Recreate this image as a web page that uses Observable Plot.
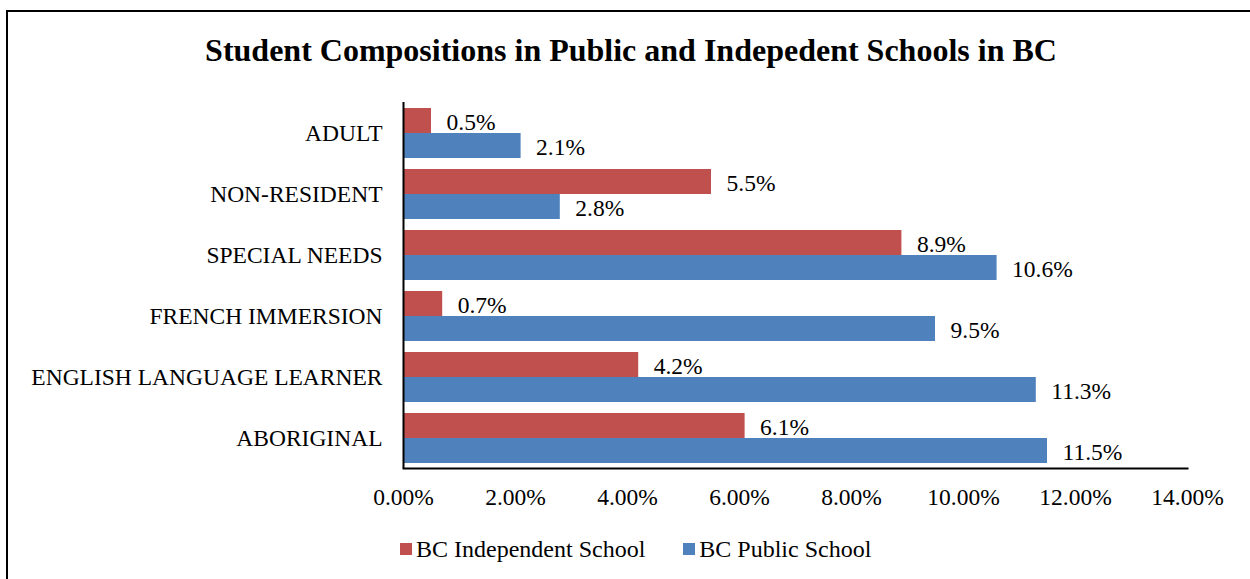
<!DOCTYPE html>
<html>
<head>
<meta charset="utf-8">
<script src="https://cdn.jsdelivr.net/npm/d3@7"></script>
<script src="https://cdn.jsdelivr.net/npm/@observablehq/plot@0.6"></script>
<style>
  html, body { margin: 0; padding: 0; background: #fff; overflow: hidden; }
  body { width: 1250px; height: 579px; position: relative; font-family: "Liberation Serif", "Times New Roman", serif; color: #000; }
  #frame { position: absolute; left: 6px; top: 10px; width: 1260px; height: 600px; border: 2px solid #000; box-sizing: border-box; }
  #title { position: absolute; left: 0; top: 30px; width: 1262px; text-align: center; font-weight: bold; font-size: 32px; line-height: 40px; }
  #chart { position: absolute; left: 0; top: 80px; }
  #chart svg text { font-family: "Liberation Serif", "Times New Roman", serif; font-variant: normal; }
  #legend { position: absolute; left: 400px; top: 535px; font-size: 24px; line-height: 28px; display: flex; align-items: center; }
  .item { display: flex; align-items: center; }
  .sw { width: 12px; height: 12px; margin-right: 4px; }
</style>
</head>
<body>
<div id="frame"></div>
<div id="title">Student Compositions in Public and Indepedent Schools in BC</div>
<div id="chart"></div>
<div id="legend"></div>
<script>
const categories = ["ADULT", "NON-RESIDENT", "SPECIAL NEEDS", "FRENCH IMMERSION", "ENGLISH LANGUAGE LEARNER", "ABORIGINAL"];
const series = ["BC Independent School", "BC Public School"];
const independentValues = [0.005, 0.055, 0.089, 0.007, 0.042, 0.061];
const publicValues = [0.021, 0.028, 0.106, 0.095, 0.113, 0.115];
const xTicks = [0, 0.02, 0.04, 0.06, 0.08, 0.10, 0.12, 0.14];
const colors = ["#C0504D", "#4F81BD"];

const data = categories.flatMap((c, i) => [
  {cat: c, series: series[0], value: independentValues[i]},
  {cat: c, series: series[1], value: publicValues[i]}
]);

const serif = "'Liberation Serif', 'Times New Roman', serif";

const chart = Plot.plot({
  width: 1250,
  height: 445,
  marginTop: 20,
  marginBottom: 55,
  marginLeft: 403,
  marginRight: 63,
  style: {fontFamily: serif, fontSize: "23.5px", color: "#000", background: "transparent", overflow: "visible"},
  x: {domain: [0, 0.14], ticks: xTicks, tickFormat: d3.format(".2%"), tickSize: 0, tickPadding: 20, label: null},
  y: {domain: series, axis: null, paddingInner: 0, paddingOuter: 0.204},
  fy: {domain: categories, padding: 0, label: null, tickSize: 0, tickPadding: 21},
  color: {domain: series, range: colors},
  marks: [
    Plot.barX(data, {x: "value", y: "series", fy: "cat", fill: "series"}),
    Plot.text(data, {x: "value", y: "series", fy: "cat", text: d => d3.format(".1%")(d.value), textAnchor: "start", dx: 15, dy: 1, fill: "#000", fontFamily: serif}),
    Plot.ruleX([0], {strokeWidth: 2, stroke: "#000"}),
    Plot.frame({anchor: "bottom", facetAnchor: "bottom", strokeWidth: 2, stroke: "#000"})
  ]
});
document.getElementById("chart").appendChild(chart);

const legend = document.getElementById("legend");
series.forEach((s, i) => {
  const item = document.createElement("div");
  item.className = "item";
  if (i > 0) item.style.marginLeft = "38px";
  const sw = document.createElement("div");
  sw.className = "sw";
  sw.style.background = colors[i];
  const label = document.createElement("span");
  label.textContent = s;
  item.appendChild(sw);
  item.appendChild(label);
  legend.appendChild(item);
});
</script>
</body>
</html>
